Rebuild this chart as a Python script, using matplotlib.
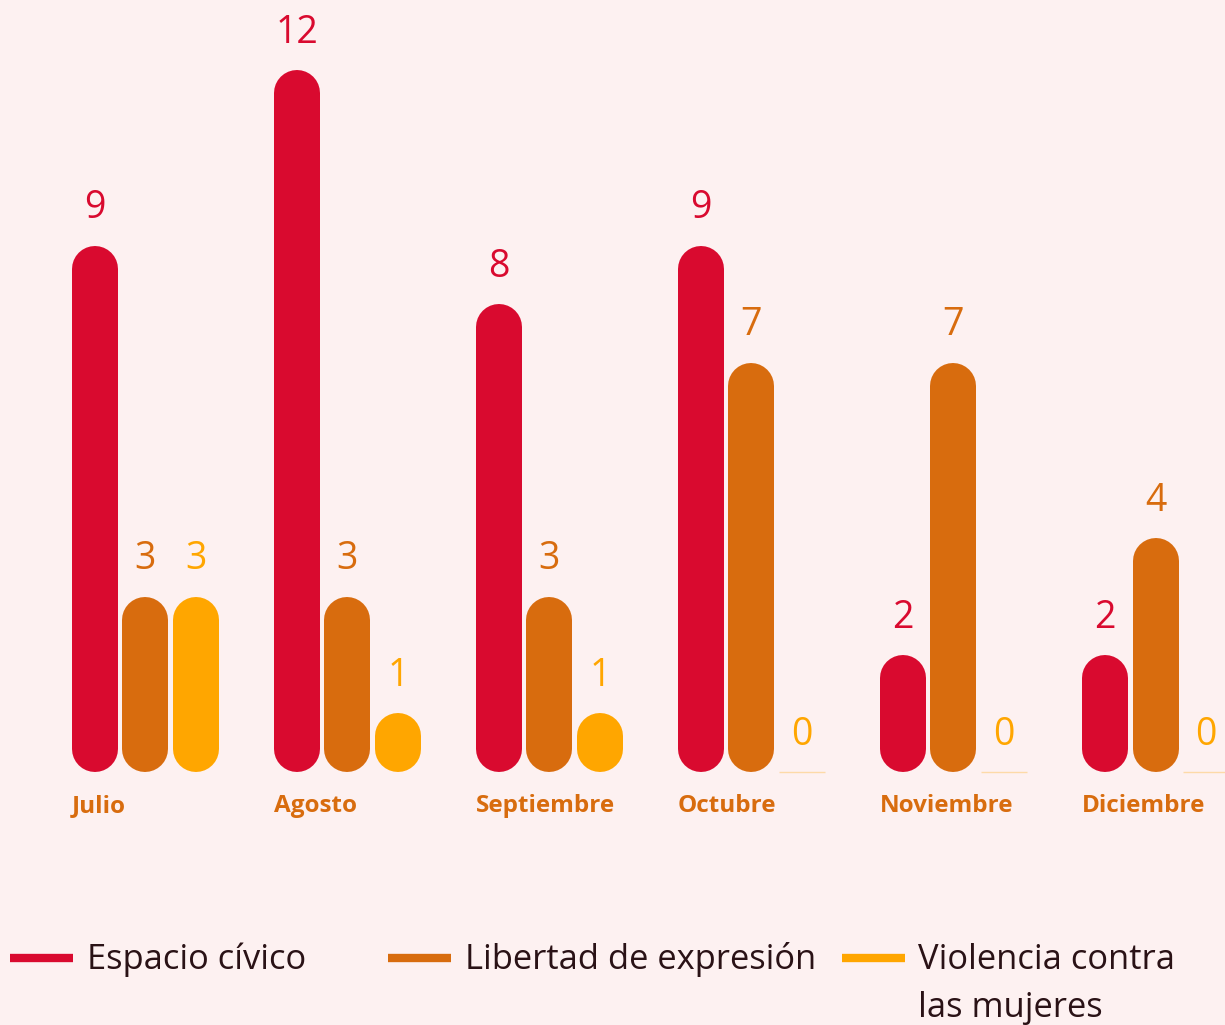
import matplotlib
matplotlib.use("Agg")
import matplotlib.pyplot as plt
from matplotlib.lines import Line2D

# ---- data ----
months = ["Julio", "Agosto", "Septiembre", "Octubre", "Noviembre", "Diciembre"]
series_names = ["Espacio cívico", "Libertad de expresión", "Violencia contra\nlas mujeres"]
espacio_civico = [9, 12, 8, 9, 2, 2]
libertad_expresion = [3, 3, 3, 7, 7, 4]
violencia_mujeres = [3, 1, 1, 0, 0, 0]
series_values = [espacio_civico, libertad_expresion, violencia_mujeres]

# ---- style ----
BG = "#FDF1F1"
COLORS = ["#D90A2F", "#D86C0E", "#FFA600"]
TEXT_DARK = "#2A1216"
FONT = "Open Sans"

W, H = 1225, 1025
fig = plt.figure(figsize=(W / 100, H / 100), dpi=100, facecolor=BG)
ax = fig.add_axes([0, 0, 1, 1])
ax.set_facecolor(BG)
ax.set_xlim(-0.470, 5.594)
ax.set_ylim(-4.325, 13.197)
ax.axis("off")

px_x = (5.594 + 0.470) / W          # x units per pixel
px_y = (13.197 + 4.325) / H         # y units per pixel

offset = 0.25
bar_px = 46
bw = bar_px * px_x
r_y = (bar_px / 2) * px_y            # cap radius in y units
lw_pt = bar_px * 72 / 100

for j, vals in enumerate(series_values):
    for i, v in enumerate(vals):
        xc = i + j * offset
        if v > 0:
            ax.plot([xc, xc], [r_y, v - r_y], color=COLORS[j], lw=lw_pt,
                    solid_capstyle="round")
        else:
            ax.plot([xc - bw / 2, xc + bw / 2], [0, 0], color=COLORS[j],
                    alpha=0.3, lw=1, solid_capstyle="butt")
        ax.annotate(str(v), (xc, v), xytext=(0, 19.5), textcoords="offset points",
                    ha="center", va="baseline", fontsize=27, color=COLORS[j],
                    family=FONT)

for i, m in enumerate(months):
    ax.text(i - bw / 2, -40 * px_y, m, ha="left", va="baseline",
            fontsize=17.5, fontweight="bold", color=COLORS[1], family=FONT)

# ---- legend (manual) ----
leg_lines = [(10, 73), (388, 451), (842, 905)]
leg_text_x = [87, 465, 918]
line_y = (H - 958) / H
text_y = (H - 969) / H
for k, name in enumerate(series_names):
    x0, x1 = leg_lines[k]
    fig.add_artist(Line2D([x0 / W, x1 / W], [line_y, line_y], transform=fig.transFigure,
                          color=COLORS[k], lw=6, solid_capstyle="butt"))
    parts = name.split("\n")
    for r, part in enumerate(parts):
        fig.text(leg_text_x[k] / W, text_y - r * 48 / H, part, ha="left", va="baseline",
                 fontsize=24.8, color=TEXT_DARK, family=FONT)

fig.savefig("out.png", dpi=100, facecolor=BG)
